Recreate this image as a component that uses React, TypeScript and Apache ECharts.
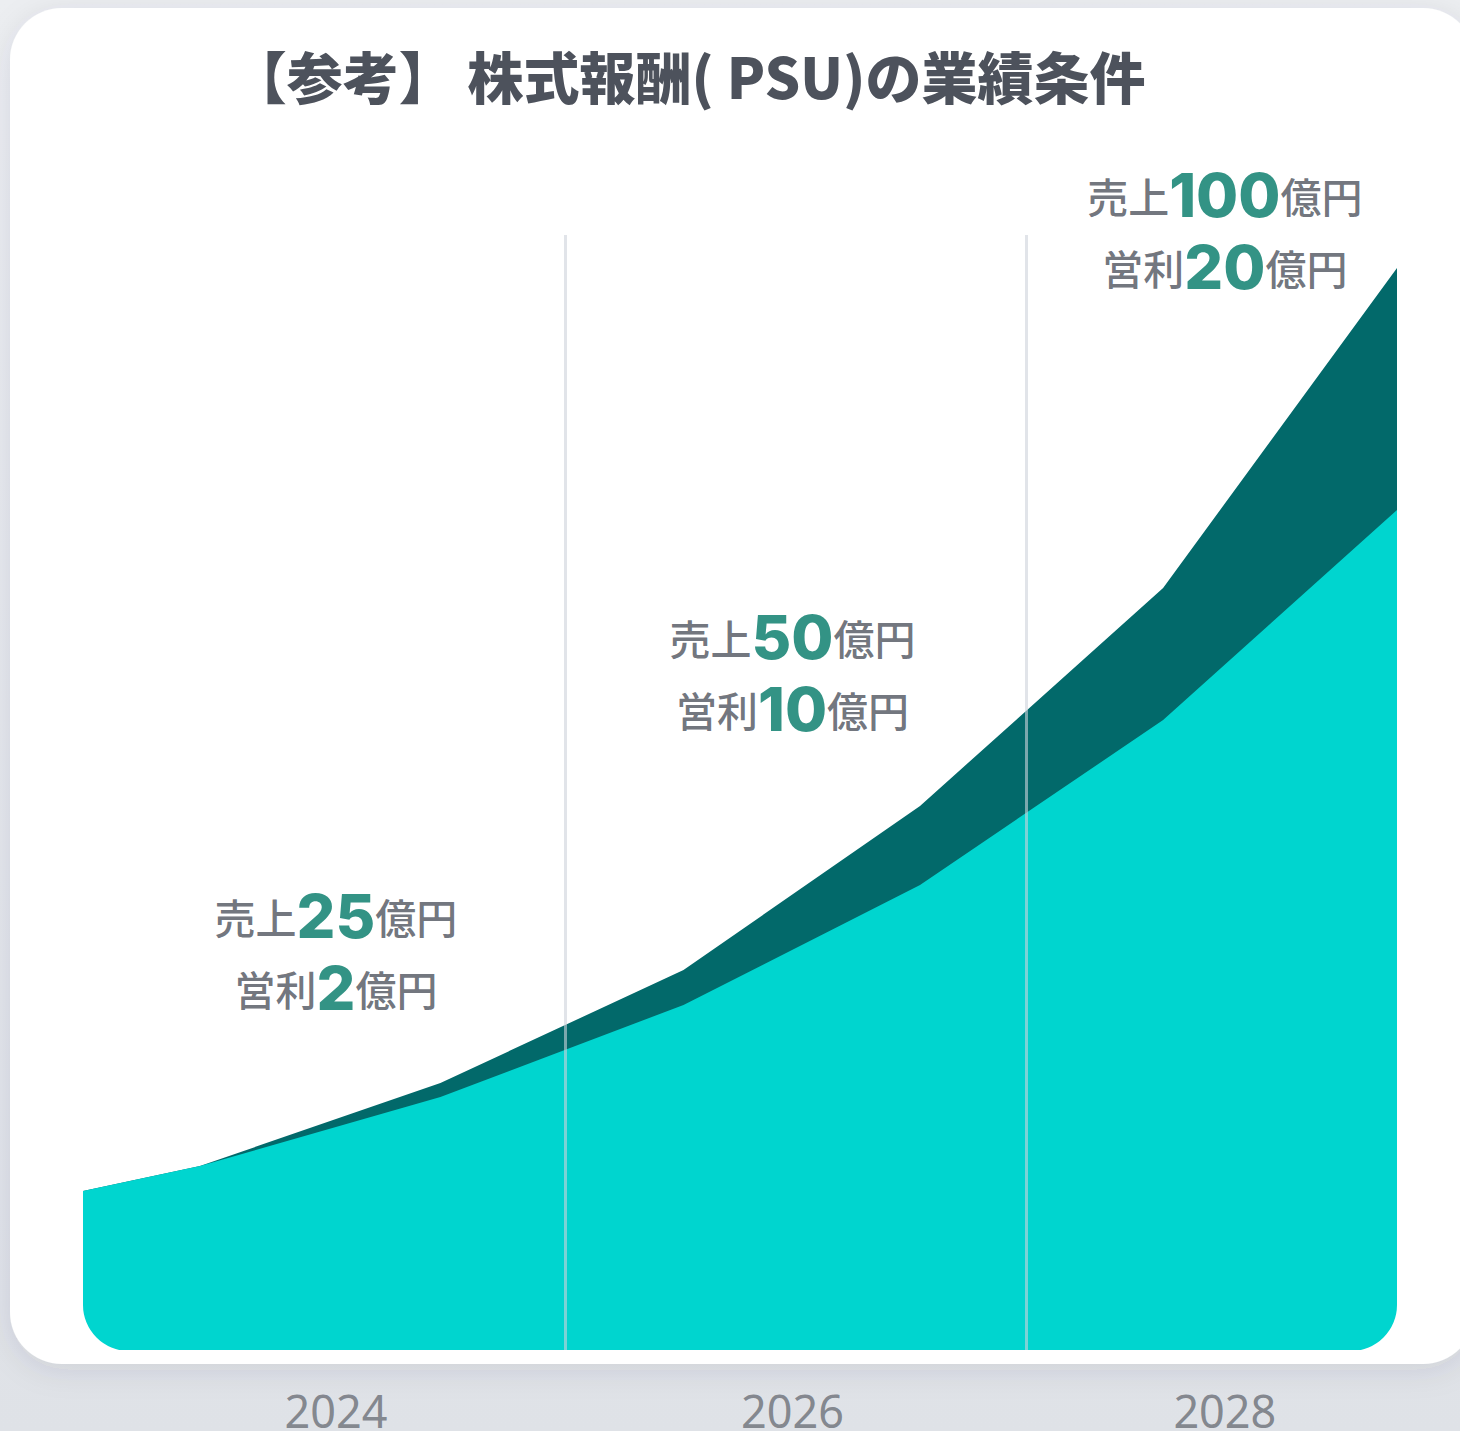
import React, { useEffect, useRef } from "react";
import * as echarts from "echarts";

// ---- data ----
const pointX = [0, 8.9, 27.2, 45.7, 63.7, 82.2, 100];
const salesArea = [15.9, 18.4, 25.3, 34.5, 46.5, 63.0, 84.0];
const profitBand = [0, 0, 1.4, 3.5, 7.9, 13.2, 24.2];
const yearLabels = ["2024", "2026", "2028"];
const yearX = [19.25, 54.0, 86.9];
const salesTargets = [25, 50, 100];
const profitTargets = [2, 10, 20];
const dividerX = [36.7, 71.8];
const titleText = "【参考】 株式報酬( PSU)の業績条件";

// ---- layout constants ----
const annotationY = [39.8, 67.7, 111.9];
const yearLabelY = -6.0;
const dividerTop = 111.5;

echarts.graphic.registerShape(
  "cornerBL",
  echarts.graphic.extendPath("M0,-46 L0,0 L46,0 A46,46 0 0 1 0,-46 Z", {})
);
echarts.graphic.registerShape(
  "cornerBR",
  echarts.graphic.extendPath("M0,-46 L0,0 L-46,0 A46,46 0 0 0 0,-46 Z", {})
);

const CJK = "'Noto Sans CJK JP', 'Noto Sans', sans-serif";
const NUM = "Inter, 'Noto Sans', sans-serif";

export default function App() {
  const ref = useRef<HTMLDivElement>(null);
  useEffect(() => {
    if (!ref.current) return;
    const chart = echarts.init(ref.current, undefined, { renderer: "svg" });
    const totalTop = salesArea.map((v, i) => v + profitBand[i]);
    const textRich = {
      t: { fontFamily: CJK, fontSize: 41, fontWeight: 500, color: "#4c515c", lineHeight: 72, align: "center" },
      n: { fontFamily: NUM, fontSize: 61, fontWeight: 800, color: "#007866", lineHeight: 72, align: "center" },
    };
    chart.setOption({
      animation: false,
      backgroundColor: {
        type: "linear", x: 0, y: 0, x2: 0, y2: 1,
        colorStops: [
          { offset: 0, color: "#eceef1" },
          { offset: 1, color: "#dfe2e7" },
        ],
      },
      grid: { left: 83, right: 63, top: 150, bottom: 81 },
      xAxis: { type: "value", min: 0, max: 100, show: false },
      yAxis: { type: "value", min: 0, max: 120, show: false },
      graphic: [
        {
          type: "rect", z: 0, silent: true,
          shape: { x: 10, y: 8, width: 1465, height: 1356, r: 52 },
          style: { fill: "#ffffff", shadowBlur: 30, shadowColor: "rgba(40,50,70,0.10)", shadowOffsetY: 6 },
        },
        {
          type: "text", z: 10, silent: true, x: 688, y: 74,
          style: {
            text: titleText, fontFamily: CJK, fontSize: 56, fontWeight: 900,
            fill: "#4d525c", align: "center", verticalAlign: "middle",
          },
        },
        { type: "cornerBL", z: 10, silent: true, x: 83, y: 1351, style: { fill: "#ffffff" } },
        { type: "cornerBR", z: 10, silent: true, x: 1397, y: 1351, style: { fill: "#ffffff" } },
      ],
      series: [
        {
          type: "line", name: "営利", symbol: "none", z: 2,
          lineStyle: { width: 0 },
          areaStyle: { color: "#02696a", opacity: 1 },
          data: pointX.map((x, i) => [x, totalTop[i]]),
        },
        {
          type: "line", name: "売上", symbol: "none", z: 3,
          lineStyle: { width: 0 },
          areaStyle: { color: "#00d5cf", opacity: 1 },
          data: pointX.map((x, i) => [x, salesArea[i]]),
        },
        {
          type: "scatter", z: 5, clip: false, silent: true, symbolSize: 1,
          itemStyle: { color: "rgba(0,0,0,0)" },
          label: { show: true, position: "inside", align: "center", verticalAlign: "middle", rich: textRich },
          data: yearX.map((x, i) => ({
            value: [x, annotationY[i]],
            label: {
              formatter: `{t|売上}{n|${salesTargets[i]}}{t|億円}\n{t|営利}{n|${profitTargets[i]}}{t|億円}`,
            },
          })),
          markLine: {
            silent: true, symbol: ["none", "none"], label: { show: false },
            lineStyle: { color: "rgba(205,210,218,0.6)", width: 3, type: "solid" },
            data: dividerX.map((x) => [{ coord: [x, 0] }, { coord: [x, dividerTop] }]),
          },
        },
        {
          type: "scatter", z: 5, clip: false, silent: true, symbolSize: 1,
          itemStyle: { color: "rgba(0,0,0,0)" },
          label: {
            show: true, position: "inside", align: "center", verticalAlign: "middle",
            fontFamily: "'Noto Sans', sans-serif", fontSize: 45, lineHeight: 40, color: "#6b6f77",
            formatter: (p: any) => yearLabels[p.dataIndex],
          },
          data: yearX.map((x) => [x, yearLabelY]),
        },
      ],
    });
    return () => chart.dispose();
  }, []);
  return <div ref={ref} style={{ position: "absolute", left: 0, top: 0, width: 1460, height: 1431 }} />;
}
